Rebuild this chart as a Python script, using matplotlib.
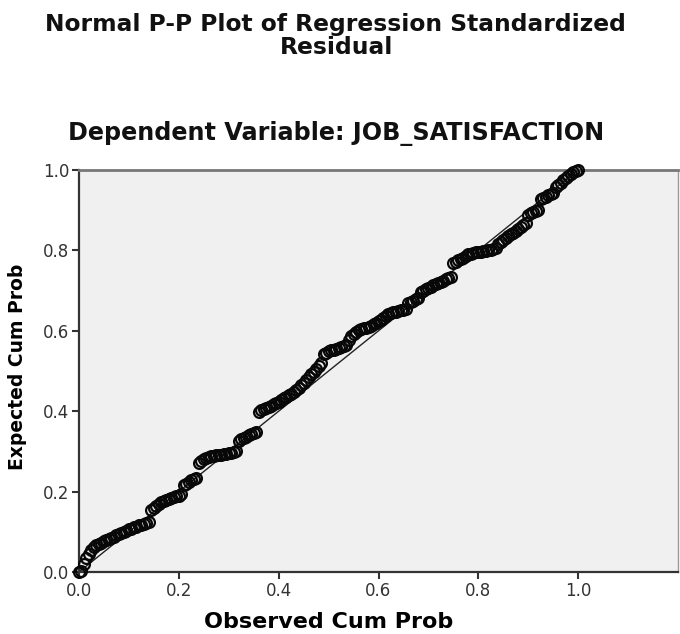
import matplotlib
matplotlib.use("Agg")
import matplotlib.pyplot as plt

# Observed cumulative probability (x) and expected cumulative probability (y)
observed = [
    0.000, 0.005, 0.010, 0.015, 0.020, 0.025, 0.030, 0.035, 0.040, 0.045,
    0.050, 0.055, 0.060, 0.065, 0.070, 0.075, 0.080, 0.085, 0.090, 0.095,
    0.100, 0.105, 0.110, 0.115, 0.120, 0.125, 0.130, 0.135, 0.140, 0.145,
    0.150, 0.155, 0.160, 0.165, 0.170, 0.175, 0.180, 0.185, 0.190, 0.195,
    0.200, 0.205, 0.210, 0.215, 0.220, 0.225, 0.230, 0.235, 0.240, 0.245,
    0.250, 0.255, 0.260, 0.265, 0.270, 0.275, 0.280, 0.285, 0.290, 0.295,
    0.300, 0.305, 0.310, 0.315, 0.320, 0.325, 0.330, 0.335, 0.340, 0.345,
    0.350, 0.355, 0.360, 0.365, 0.370, 0.375, 0.380, 0.385, 0.390, 0.395,
    0.400, 0.405, 0.410, 0.415, 0.420, 0.425, 0.430, 0.435, 0.440, 0.445,
    0.450, 0.455, 0.460, 0.465, 0.470, 0.475, 0.480, 0.485, 0.490, 0.495,
    0.500, 0.505, 0.510, 0.515, 0.520, 0.525, 0.530, 0.535, 0.540, 0.545,
    0.550, 0.555, 0.560, 0.565, 0.570, 0.575, 0.580, 0.585, 0.590, 0.595,
    0.600, 0.605, 0.610, 0.615, 0.620, 0.625, 0.630, 0.635, 0.640, 0.645,
    0.650, 0.655, 0.660, 0.665, 0.670, 0.675, 0.680, 0.685, 0.690, 0.695,
    0.700, 0.705, 0.710, 0.715, 0.720, 0.725, 0.730, 0.735, 0.740, 0.745,
    0.750, 0.755, 0.760, 0.765, 0.770, 0.775, 0.780, 0.785, 0.790, 0.795,
    0.800, 0.805, 0.810, 0.815, 0.820, 0.825, 0.830, 0.835, 0.840, 0.845,
    0.850, 0.855, 0.860, 0.865, 0.870, 0.875, 0.880, 0.885, 0.890, 0.895,
    0.900, 0.905, 0.910, 0.915, 0.920, 0.925, 0.930, 0.935, 0.940, 0.945,
    0.950, 0.955, 0.960, 0.965, 0.970, 0.975, 0.980, 0.985, 0.990, 0.995,
    1.000,
]
expected = [
    0.000, 0.003, 0.020, 0.035, 0.045, 0.055, 0.062, 0.066, 0.070, 0.073,
    0.076, 0.079, 0.082, 0.085, 0.088, 0.091, 0.094, 0.097, 0.100, 0.103,
    0.106, 0.108, 0.111, 0.113, 0.116, 0.118, 0.120, 0.122, 0.125, 0.155,
    0.160, 0.165, 0.170, 0.174, 0.177, 0.180, 0.182, 0.184, 0.186, 0.188,
    0.190, 0.193, 0.216, 0.220, 0.224, 0.228, 0.231, 0.234, 0.272, 0.276,
    0.280, 0.283, 0.286, 0.288, 0.289, 0.290, 0.291, 0.292, 0.293, 0.294,
    0.295, 0.296, 0.298, 0.300, 0.325, 0.330, 0.334, 0.337, 0.340, 0.343,
    0.346, 0.349, 0.398, 0.402, 0.405, 0.408, 0.411, 0.414, 0.417, 0.420,
    0.424, 0.428, 0.432, 0.436, 0.440, 0.444, 0.448, 0.452, 0.457, 0.465,
    0.470, 0.478, 0.486, 0.492, 0.498, 0.505, 0.512, 0.520, 0.542, 0.546,
    0.549, 0.551, 0.553, 0.555, 0.557, 0.559, 0.561, 0.564, 0.578, 0.586,
    0.592, 0.597, 0.601, 0.604, 0.606, 0.608, 0.610, 0.613, 0.616, 0.620,
    0.624, 0.628, 0.633, 0.638, 0.641, 0.644, 0.646, 0.648, 0.650, 0.651,
    0.652, 0.653, 0.668, 0.672, 0.675, 0.678, 0.681, 0.696, 0.700, 0.704,
    0.707, 0.710, 0.713, 0.716, 0.719, 0.722, 0.725, 0.728, 0.731, 0.735,
    0.768, 0.772, 0.776, 0.779, 0.782, 0.787, 0.790, 0.792, 0.794, 0.795,
    0.796, 0.797, 0.798, 0.799, 0.800, 0.802, 0.804, 0.806, 0.815, 0.822,
    0.827, 0.832, 0.836, 0.840, 0.844, 0.848, 0.853, 0.858, 0.863, 0.868,
    0.888, 0.892, 0.895, 0.898, 0.900, 0.928, 0.931, 0.934, 0.937, 0.940,
    0.943, 0.958, 0.962, 0.968, 0.974, 0.980, 0.986, 0.991, 0.995, 0.998,
    1.000,
]
ticks = [0.0, 0.2, 0.4, 0.6, 0.8, 1.0]
tick_labels = ["0.0", "0.2", "0.4", "0.6", "0.8", "1.0"]
ref_line = [0.0, 1.0]

plt.rcParams['font.family'] = ['DejaVu Sans']

fig = plt.figure(figsize=(6.8, 6.34), dpi=100)
ax = fig.add_axes([79/680, (634-572)/634, (678-79)/680, (572-170)/634])
ax.set_facecolor('#F0F0F0')

ax.plot(ref_line, ref_line, color='#222222', lw=1.0, zorder=2)
ax.plot(observed, expected, linestyle='none', marker='o', markersize=7.8,
        markerfacecolor='none', markeredgecolor='#080808', markeredgewidth=1.6,
        zorder=3, clip_on=False)

ax.set_xlim(0, 1.2)
ax.set_ylim(0, 1.0)
ax.set_xticks(ticks)
ax.set_xticklabels(tick_labels)
ax.set_yticks(ticks)
ax.set_yticklabels(tick_labels)
ax.tick_params(direction='out', length=5, width=1.5, color='#333333',
               labelcolor='#333333', labelsize=12, pad=2)

for side in ['left', 'bottom']:
    ax.spines[side].set_color('#333333')
    ax.spines[side].set_linewidth(1.6)
ax.spines['top'].set_color('#777777')
ax.spines['top'].set_linewidth(2.0)
ax.spines['right'].set_color('#999999')
ax.spines['right'].set_linewidth(1.0)

ax.set_xlabel("Observed Cum Prob", fontsize=16, fontweight='bold')
ax.xaxis.set_label_coords(0.5/1.2, -0.100)
ax.set_ylabel("Expected Cum Prob", fontsize=13.5, fontweight='bold')
ax.yaxis.set_label_coords(-0.087, 0.51)

fig.text(335/680, 1 - 25/634, "Normal P-P Plot of Regression Standardized",
         ha='center', va='center', fontsize=16.8, fontweight='bold', color='#111111')
fig.text(337/680, 1 - 48/634, "Residual",
         ha='center', va='center', fontsize=16.8, fontweight='bold', color='#111111')
fig.text(336/680, 1 - 133/634, "Dependent Variable: JOB_SATISFACTION",
         ha='center', va='center', fontsize=17.2, fontweight='bold', color='#111111')

fig.savefig("out.png", dpi=100)
